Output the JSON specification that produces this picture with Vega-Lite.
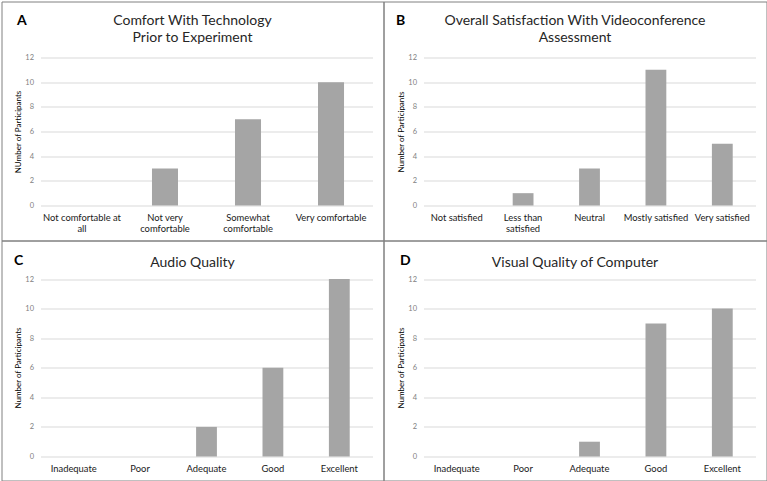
{
  "$schema": "https://vega.github.io/schema/vega-lite/v6.json",
  "padding": {"left": 0.5, "top": 0.5, "right": 0.5, "bottom": 0.5},
  "background": "white",
  "columns": 2,
  "spacing": 0,
  "bounds": "flush",
  "align": "each",
  "config": {
    "view": {"stroke": "#808080", "strokeWidth": 1},
    "font": "Lato",
    "axis": {
      "domain": false,
      "ticks": false,
      "labelFont": "Lato",
      "titleFont": "Lato"
    },
    "axisY": {
      "grid": true,
      "gridColor": "#d9d9d9",
      "gridWidth": 1,
      "labelColor": "#7f7f7f",
      "labelFontSize": 7.5,
      "labelPadding": 7,
      "values": [0, 2, 4, 6, 8, 10, 12],
      "titleFontSize": 8,
      "titleFontWeight": "normal",
      "titleColor": "#000000",
      "titleBaseline": "middle",
      "titleAlign": "center",
      "titleAngle": -90,
      "titleX": -22
    },
    "axisX": {
      "grid": false,
      "labelAngle": 0,
      "labelColor": "#1a1a1a",
      "labelFontSize": 9.4,
      "labelPadding": 8,
      "labelLineHeight": 11,
      "labelOverlap": false,
      "labelLimit": 200,
      "labelBound": false,
      "titleFontSize": 14,
      "titleFontWeight": "bold",
      "titleColor": "#000000",
      "titleAlign": "left",
      "titleBaseline": "middle",
      "titleAngle": 0
    },
    "title": {
      "font": "Lato",
      "fontSize": 14,
      "fontWeight": "normal",
      "color": "#262626",
      "anchor": "middle",
      "frame": "group",
      "baseline": "top",
      "lineHeight": 17
    },
    "bar": {"color": "#a5a5a5"}
  },
  "data": {
    "values": [
      {"panel": "A", "category": "Not comfortable at all", "count": 0},
      {"panel": "A", "category": "Not very comfortable", "count": 3},
      {"panel": "A", "category": "Somewhat comfortable", "count": 7},
      {"panel": "A", "category": "Very comfortable", "count": 10},
      {"panel": "B", "category": "Not satisfied", "count": 0},
      {"panel": "B", "category": "Less than satisfied", "count": 1},
      {"panel": "B", "category": "Neutral", "count": 3},
      {"panel": "B", "category": "Mostly satisfied", "count": 11},
      {"panel": "B", "category": "Very satisfied", "count": 5},
      {"panel": "C", "category": "Inadequate", "count": 0},
      {"panel": "C", "category": "Poor", "count": 0},
      {"panel": "C", "category": "Adequate", "count": 2},
      {"panel": "C", "category": "Good", "count": 6},
      {"panel": "C", "category": "Excellent", "count": 12},
      {"panel": "D", "category": "Inadequate", "count": 0},
      {"panel": "D", "category": "Poor", "count": 0},
      {"panel": "D", "category": "Adequate", "count": 1},
      {"panel": "D", "category": "Good", "count": 9},
      {"panel": "D", "category": "Excellent", "count": 10}
    ]
  },
  "concat": [
    {
      "width": 382,
      "height": 239,
      "title": {"text": ["Comfort With Technology", "Prior to Experiment"], "offset": -43.5},
      "transform": [{"filter": "datum.panel == 'A'"}],
      "mark": "bar",
      "encoding": {
        "x": {
          "field": "category", "type": "nominal", "sort": null,
          "scale": {"range": [39, 371], "paddingInner": 0.6865, "paddingOuter": 0.343},
          "axis": {
            "title": "A", "offset": -35, "titleX": 15, "titleY": -185,
            "labelExpr": "datum.value == 'Not comfortable at all' ? ['Not comfortable at', 'all'] : datum.value == 'Not very comfortable' ? ['Not very', 'comfortable'] : datum.value == 'Somewhat comfortable' ? ['Somewhat', 'comfortable'] : datum.value"
          }
        },
        "y": {
          "field": "count", "type": "quantitative",
          "scale": {"domain": [0, 12], "range": [204, 56], "nice": false},
          "axis": {"title": "NUmber of Participants", "offset": -39, "titleY": 130}
        }
      }
    },
    {
      "width": 383,
      "height": 239,
      "title": {"text": ["Overall Satisfaction With Videoconference", "Assessment"], "offset": -43.5},
      "transform": [{"filter": "datum.panel == 'B'"}],
      "mark": "bar",
      "encoding": {
        "x": {
          "field": "category", "type": "nominal", "sort": null,
          "scale": {"range": [40, 372], "paddingInner": 0.6865, "paddingOuter": 0.343},
          "axis": {
            "title": "B", "offset": -35, "titleX": 12, "titleY": -185,
            "labelExpr": "datum.value == 'Less than satisfied' ? ['Less than', 'satisfied'] : datum.value"
          }
        },
        "y": {
          "field": "count", "type": "quantitative",
          "scale": {"domain": [0, 12], "range": [204, 56], "nice": false},
          "axis": {"title": "Number of Participants", "offset": -40, "titleY": 130}
        }
      }
    },
    {
      "width": 382,
      "height": 240,
      "title": {"text": "Audio Quality", "offset": -29},
      "transform": [{"filter": "datum.panel == 'C'"}],
      "mark": "bar",
      "encoding": {
        "x": {
          "field": "category", "type": "nominal", "sort": null,
          "scale": {"range": [39, 371], "paddingInner": 0.6865, "paddingOuter": 0.343},
          "axis": {"title": "C", "offset": -24, "titleX": 12, "titleY": -196}
        },
        "y": {
          "field": "count", "type": "quantitative",
          "scale": {"domain": [0, 12], "range": [216, 38.5], "nice": false},
          "axis": {"title": "Number of Participants", "offset": -39, "titleY": 127}
        }
      }
    },
    {
      "width": 383,
      "height": 240,
      "title": {"text": "Visual Quality of Computer", "offset": -29},
      "transform": [{"filter": "datum.panel == 'D'"}],
      "mark": "bar",
      "encoding": {
        "x": {
          "field": "category", "type": "nominal", "sort": null,
          "scale": {"range": [40, 372], "paddingInner": 0.6865, "paddingOuter": 0.343},
          "axis": {"title": "D", "offset": -24, "titleX": 16, "titleY": -196}
        },
        "y": {
          "field": "count", "type": "quantitative",
          "scale": {"domain": [0, 12], "range": [216, 38.5], "nice": false},
          "axis": {"title": "Number of Participants", "offset": -40, "titleY": 127}
        }
      }
    }
  ]
}
